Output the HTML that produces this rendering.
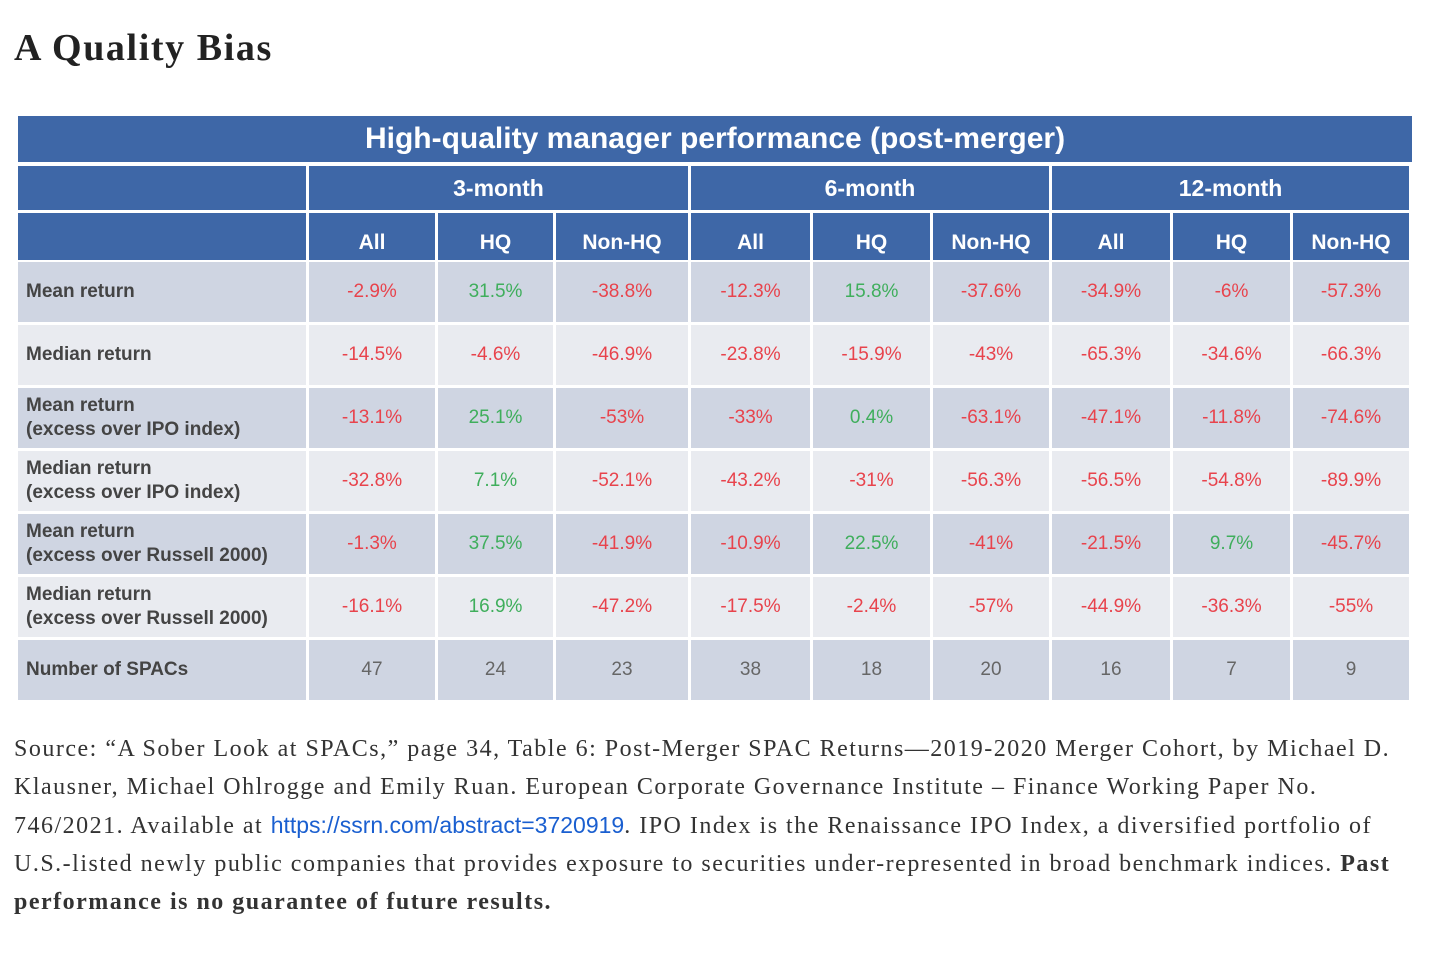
<!DOCTYPE html>
<html><head><meta charset="utf-8"><style>
body{margin:0;width:1442px;height:966px;background:#fff;position:relative;overflow:hidden;font-family:"Liberation Serif",serif;}
h1{position:absolute;left:14px;top:26px;margin:0;font-size:38px;letter-spacing:1.6px;font-weight:bold;color:#222;}
#tbl{position:absolute;left:18px;top:116px;width:1394px;height:584px;background:#fff;}
.c{position:absolute;display:flex;align-items:center;justify-content:center;font-family:"Liberation Sans",sans-serif;box-sizing:border-box;}
.hd{background:#3e67a7;color:#fff;font-weight:bold;}
.lbl{justify-content:flex-start;padding-left:8px;color:#444;font-size:19px;line-height:24px;font-weight:bold;}
.v{font-size:19px;}
.src{position:absolute;left:14px;top:730px;width:1400px;font-size:24px;letter-spacing:1.5px;line-height:38px;color:#333;}
.src a{color:#1a5fd0;text-decoration:none;font-family:"Liberation Sans",sans-serif;font-size:23px;letter-spacing:0;}
</style></head><body>
<h1>A Quality Bias</h1>
<div id="tbl"></div>
<div class="src">Source: “A Sober Look at SPACs,” page 34, Table 6: Post-Merger SPAC Returns—2019-2020 Merger Cohort, by Michael D. Klausner, Michael Ohlrogge and Emily Ruan. European Corporate Governance Institute – Finance Working Paper No. 746/2021. Available at <a>https://ssrn.com/abstract=3720919</a>. IPO Index is the Renaissance IPO Index, a diversified portfolio of U.S.-listed newly public companies that provides exposure to securities under-represented in broad benchmark indices. <b>Past performance is no guarantee of future results.</b></div>
<script>
const periods=["3-month","6-month","12-month"];
const subCols=["All","HQ","Non-HQ"];
const rowLabels=["Mean return","Median return","Mean return<br>(excess over IPO index)","Median return<br>(excess over IPO index)","Mean return<br>(excess over Russell 2000)","Median return<br>(excess over Russell 2000)","Number of SPACs"];
const values=[
["-2.9%","31.5%","-38.8%","-12.3%","15.8%","-37.6%","-34.9%","-6%","-57.3%"],
["-14.5%","-4.6%","-46.9%","-23.8%","-15.9%","-43%","-65.3%","-34.6%","-66.3%"],
["-13.1%","25.1%","-53%","-33%","0.4%","-63.1%","-47.1%","-11.8%","-74.6%"],
["-32.8%","7.1%","-52.1%","-43.2%","-31%","-56.3%","-56.5%","-54.8%","-89.9%"],
["-1.3%","37.5%","-41.9%","-10.9%","22.5%","-41%","-21.5%","9.7%","-45.7%"],
["-16.1%","16.9%","-47.2%","-17.5%","-2.4%","-57%","-44.9%","-36.3%","-55%"],
["47","24","23","38","18","20","16","7","9"]];
const T=document.getElementById('tbl');
const colX=[0,291,420,538,673,795,915,1034,1155,1275,1394];
function cell(x,y,w,h,cls,html){const d=document.createElement('div');d.className='c '+cls;d.style.left=x+'px';d.style.top=y+'px';d.style.width=w+'px';d.style.height=h+'px';d.innerHTML=html;T.appendChild(d);return d;}
let t=cell(0,0,1394,46,'hd','High-quality manager performance (post-merger)');t.style.fontSize='30px';


let a=cell(0,50,288,44,'hd','');
let b=cell(0,97,288,47,'hd','');
periods.forEach((p,i)=>{const x0=colX[1+i*3],x1=colX[4+i*3];const d=cell(x0,50,x1-x0-3,44,'hd',p);d.style.fontSize='23px';


subCols.forEach((s,j)=>{const k=1+i*3+j;const e=cell(colX[k],97,colX[k+1]-colX[k]-3,47,'hd',s);e.style.fontSize='21px';e.style.paddingTop='12px';

});});
rowLabels.forEach((l,r)=>{const y=146+r*63,h=60,bg=r%2==0?'#cfd5e2':'#e9ebf0';
const lc=cell(0,y,288,h,'lbl',l);lc.style.background=bg;


values[r].forEach((v,k)=>{const col=r==6?'#666':(v.startsWith('-')?'#e8434c':'#3fae5c');const c=cell(colX[k+1],y,colX[k+2]-colX[k+1]-3,h,'v',v);c.style.background=bg;c.style.color=col;

});});
</script>
</body></html>
